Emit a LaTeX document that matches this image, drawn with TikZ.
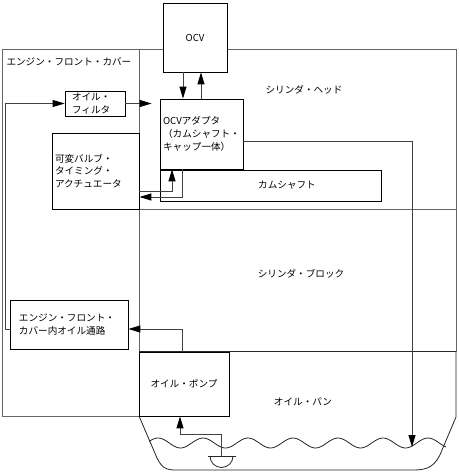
\documentclass[tikz,border=0pt]{standalone}
\usepackage{fontspec}
\setmainfont{Noto Sans CJK JP}
\usetikzlibrary{arrows.meta}

\tikzset{
  frame/.style={draw=black!60, line width=0.8pt},
  panline/.style={draw=black!85, line width=0.8pt},
  box/.style={draw=black, line width=0.8pt, fill=white, inner sep=0pt},
  pipe/.style={draw=black!75, line width=0.9pt, -{Triangle[length=12pt,width=7pt,color=black]}},
}

\begin{document}
\begin{tikzpicture}[x=1pt, y=-1pt, font=\fontsize{9.6}{12.8}\selectfont]
\useasboundingbox (0,0) rectangle (458,474);
% housing
\draw[frame] (2,49) rectangle (139,416);
\draw[frame] (139,49) rectangle (456,209);
\draw[frame] (139,209) rectangle (456,351);
\draw[panline] (139,351) -- (456,351);
\draw[panline] (139,416) -- (157,458) .. controls (162,468) and (166,470) .. (176,470)
  -- (414,470) .. controls (428,470) and (436,466) .. (442,450) -- (456,417) -- (456,351);
\draw[panline] plot[domain=149:446, samples=120, smooth] (\x, {443-5*cos(8*(\x-158))});

\node[anchor=west] (covertext) at (3,62) {エンジン・フロント・カバー};
\node (headtext) at (304,90) {シリンダ・ヘッド};
\node (blocktext) at (301,274) {シリンダ・ブロック};
\node (pantext) at (303,402) {オイル・パン};

% parts
\node[box, minimum width=64pt, minimum height=69pt] (ocv) at (195,37.5) {OCV};
\node[box, minimum width=83pt, minimum height=70pt, align=left] (adapter) at (201.5,134) {OCVアダプタ\\（カムシャフト・\\キャップ一体）};
\node[box, minimum width=221pt, minimum height=31pt, label={[xshift=16.5pt]center:カムシャフト}] (cam) at (270.5,185.5) {};
\node[box, minimum height=76pt, text width=81pt, inner xsep=3pt, align=left] (vvt) at (95.5,171) {可変バルブ・\\タイミング・\\アクチュエータ};
\node[box, minimum height=25pt, text width=46pt, inner xsep=7pt, align=left] (filter) at (95,103.5) {オイル・\\フィルタ};
\node[box, minimum height=49pt, text width=100pt, inner xsep=9pt, align=left] (passage) at (69,324.5) {エンジン・フロント・\\カバー内オイル通路};
\node[box, minimum width=90pt, minimum height=64pt] (pump) at (184,384) {オイル・ポンプ};

% strainer
\coordinate (strainer) at (221.5,456);
\coordinate (oillevel) at (412,447);
\draw[panline] ([xshift=-14pt]strainer) -- ([xshift=14pt]strainer);
\draw[panline] ([xshift=-11.5pt]strainer) arc[start angle=180, end angle=360, radius=11.5pt];

% oil flow
\draw[pipe] ([xshift=-12pt]ocv.south) -- ([xshift=-12pt]ocv.south |- adapter.north);
\draw[pipe] ([xshift=6pt]ocv.south |- adapter.north) -- ([xshift=6pt]ocv.south);
\draw[pipe] (filter.east) -- ([xshift=-8pt]filter.east -| adapter.west);
\draw[pipe] ([yshift=-4.5pt]passage.west) -- ++(-4,0) |- (filter.west);
\draw[pipe] ([xshift=-2pt]pump.north) |- ([yshift=-4.5pt]passage.east);
\draw[pipe] (strainer) -- ++(0,-22) -| ([xshift=-4pt]pump.south);
\draw[pipe] ([yshift=-20pt]vvt.east) -| ([xshift=-29.5pt]adapter.south);
\draw[pipe] ([xshift=-19.5pt]adapter.south) |- ([yshift=-26pt]vvt.east);
\draw[pipe] ([yshift=-7pt]adapter.east) -| (oillevel);
\end{tikzpicture}
\end{document}
